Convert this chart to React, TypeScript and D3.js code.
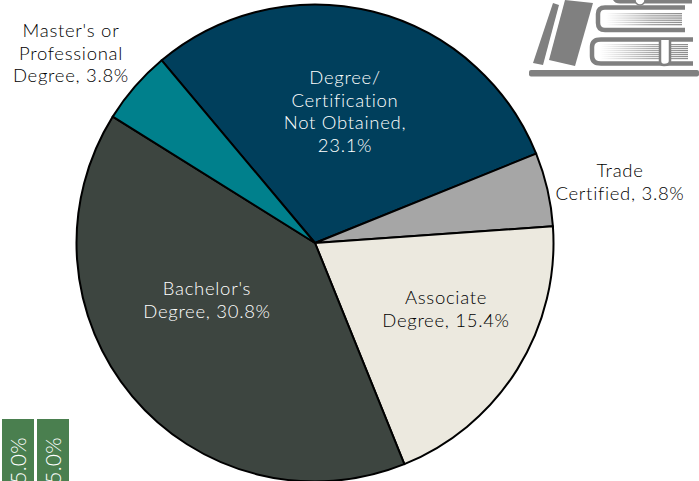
import React from "react";
import * as d3 from "d3";

const categories = ["Degree/Certification Not Obtained", "Trade Certified", "Associate Degree", "Bachelor's Degree", "Master's or Professional Degree"];
const sliceValues = [30, 5, 20, 40, 5];
const sliceColors = ["#003f5c", "#a6a6a6", "#ece9df", "#3d4540", "#00808c"];
const labelLines = [
  ["Degree/", "Certification", "Not Obtained,", "23.1%"],
  ["Trade", "Certified, 3.8%"],
  ["Associate", "Degree, 15.4%"],
  ["Bachelor's", "Degree, 30.8%"],
  ["Master's or", "Professional", "Degree, 3.8%"],
];
const labelX = [345, 620, 446, 207, 71];
const labelY = [84, 177, 304, 295, 37];
const labelColor = ["#ffffff", "#000000", "#000000", "#ffffff", "#000000"];

const FONT = "Lato, 'Open Sans', sans-serif";
const cx = 315, cy = 243, radius = 238.5;
const startAngle = (-40 * Math.PI) / 180;

const pie = d3.pie<number>().sort(null).startAngle(startAngle).endAngle(startAngle + 2 * Math.PI);
const arc = d3.arc<d3.PieArcDatum<number>>().innerRadius(0).outerRadius(radius);

const pageRows = [0, 1, 2, 3, 4, 5, 6, 7];

function BookIcon() {
  const g = "#808080";
  return (
    <g>
      <defs>
        <linearGradient id="pg" x1="0" x2="1" y1="0" y2="0">
          <stop offset="0" stopColor={g} stopOpacity={0} />
          <stop offset="0.6" stopColor={g} stopOpacity={0.7} />
          <stop offset="1" stopColor={g} stopOpacity={0.9} />
        </linearGradient>
      </defs>
      <rect x={529} y={70} width={170} height={6.5} rx={2} fill={g} />
      <path d="M553,3 L559,5 L543,65 L533,63 Z" fill={g} />
      <path d="M565,0 L593,3 L575,66 L549,60 Z" fill={g} />
      <path d="M685,7.5 H605 Q598,7.5 598,14 V23 Q598,30 605,30 H685" fill="none" stroke={g} strokeWidth={4.5} />
      {pageRows.slice(0, 6).map((i) => (
        <rect key={i} x={606} y={13 + i * 2.2} width={76} height={1.3} fill="url(#pg)" />
      ))}
      <path d="M693,39.5 H601 Q592,39.5 592,47 V56 Q592,63.5 601,63.5 H693" fill="none" stroke={g} strokeWidth={4.5} />
      {pageRows.map((i) => (
        <rect key={i} x={600} y={44 + i * 2} width={88} height={1.2} fill="url(#pg)" />
      ))}
      <path d="M660,40 V61 Q660,65 664,65 Q670,65 670,61 V40" fill="#fff" stroke={g} strokeWidth={2.5} />
      <path d="M613,0 Q615,3.5 620,3.5 H692 V0 Z" fill={g} />
      <circle cx={640} cy={0} r={5} fill="#fff" stroke={g} strokeWidth={1.5} />
    </g>
  );
}

export default function App() {
  const arcs = pie(sliceValues);
  return (
    <svg width={699} height={481} style={{ position: "fixed", left: 0, top: 0, background: "#fff" }} fontFamily={FONT} fontWeight={300}>
      <BookIcon />
      <g transform={`translate(${cx},${cy})`}>
        {arcs.map((a, i) => (
          <path key={categories[i]} d={arc(a) ?? ""} fill={sliceColors[i]} stroke="#000" strokeWidth={2} strokeLinejoin="round" />
        ))}
      </g>
      {labelLines.map((lines, i) => (
        <text key={i} textAnchor="middle" fontSize={18.5} letterSpacing={0.7} fill={labelColor[i]}>
          {lines.map((l, j) => (
            <tspan key={j} x={labelX[i]} y={labelY[i] + j * 22.7}>{l}</tspan>
          ))}
        </text>
      ))}
      {[2, 37].map((x) => (
        <g key={x}>
          <rect x={x} y={419} width={32} height={62} fill="#4a7f4f" />
          <text transform={`translate(${x + 24},437) rotate(-90)`} textAnchor="end" fontSize={21} letterSpacing={0.3} fill="#fff">5.0%</text>
        </g>
      ))}
    </svg>
  );
}
